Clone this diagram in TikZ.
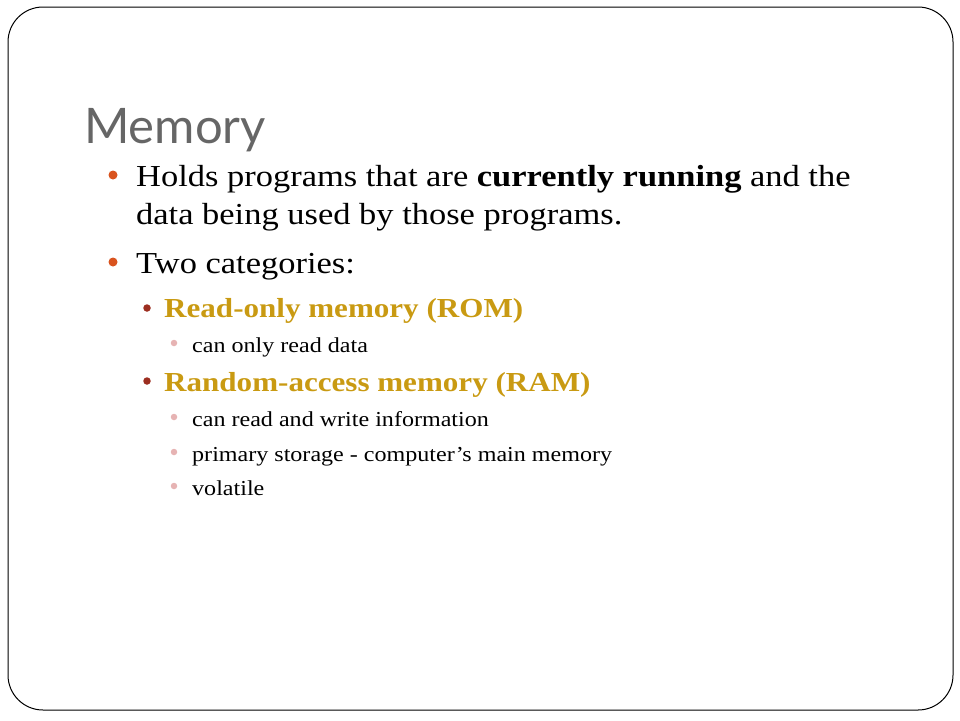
\documentclass[tikz,border=0pt]{standalone}
\usepackage{fontspec}
\usepackage{xcolor}
\setmainfont[FakeStretch=1.13]{Liberation Serif}
\newfontfamily\titlefont{Lato}
\definecolor{TitleGray}{HTML}{666666}
\definecolor{B1}{HTML}{D9531E}
\definecolor{B2}{HTML}{9C2E20}
\definecolor{B3}{HTML}{E6B3B3}
\definecolor{Gold}{HTML}{C99A12}
\tikzset{
  txt/.style={anchor=base west, inner sep=0pt, text=black},
  lvlone/.style={txt, font=\fontsize{30.5}{40}\selectfont},
  lvltwo/.style={txt, text=Gold, font=\bfseries\fontsize{27.5}{32}\selectfont},
  lvlthree/.style={txt, font=\fontsize{21.3}{26}\selectfont},
  dotone/.style={circle, fill=B1, inner sep=0pt, minimum size=9pt},
  dottwo/.style={circle, fill=B2, inner sep=0pt, minimum size=7.5pt},
  dotthree/.style={circle, fill=B3, inner sep=0pt, minimum size=6.5pt},
}
\begin{document}
\begin{tikzpicture}[x=1pt, y=-1pt]%
\useasboundingbox (0,0) rectangle (960,720);%
\draw[line width=1pt, rounded corners=35pt] (8,7) rectangle (953,710);%
\node[txt, text=TitleGray, font=\titlefont\fontsize{49}{58}\selectfont] (title) at (84,143) {Memory};%
\node[dotone] (d1) at (113,175) {};%
\node[lvlone] (holds1) at (136,186) {Holds programs that are \textbf{currently running} and the};%
\node[lvlone] (holds2) at (136,224) {data being used by those programs.};%
\node[dotone] (d2) at (113,262) {};%
\node[lvlone] (cats) at (136,273) {Two categories:};%
\node[dottwo] (d3) at (147,308) {};%
\node[lvltwo] (rom) at (164,317) {Read-only memory (ROM)};%
\node[dotthree] (d4) at (174,343) {};%
\node[lvlthree] (rom1) at (192,352) {can only read data};%
\node[dottwo] (d5) at (147,381) {};%
\node[lvltwo] (ram) at (164,391) {Random-access memory (RAM)};%
\node[dotthree] (d6) at (174,417) {};%
\node[lvlthree] (ram1) at (192,426) {can read and write information};%
\node[dotthree] (d7) at (174,452) {};%
\node[lvlthree] (ram2) at (192,461) {primary storage - computer's main memory};%
\node[dotthree] (d8) at (174,486) {};%
\node[lvlthree] (ram3) at (192,495) {volatile};%
\end{tikzpicture}
\end{document}
